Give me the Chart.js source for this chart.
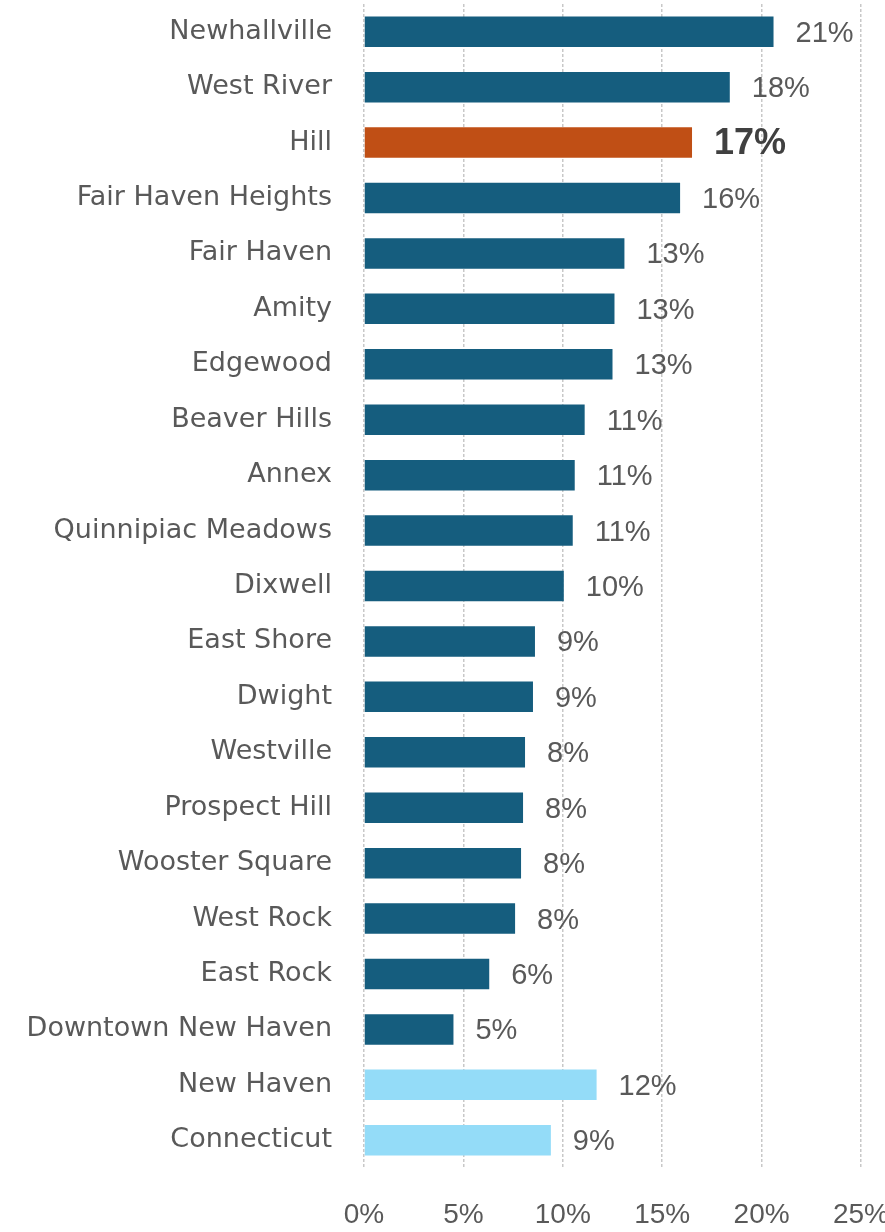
<!DOCTYPE html>
<html>
<head>
<meta charset="utf-8">
<script src="https://cdn.jsdelivr.net/npm/chart.js@4"></script>
<style>
  html, body { margin: 0; padding: 0; background: #fff; }
  #wrap { width: 885px; height: 1232px; }
</style>
</head>
<body>
<div id="wrap"><canvas id="chart" width="885" height="1232"></canvas></div>
<script>
const neighborhoods = ['Newhallville', 'West River', 'Hill', 'Fair Haven Heights', 'Fair Haven', 'Amity',
    'Edgewood', 'Beaver Hills', 'Annex', 'Quinnipiac Meadows', 'Dixwell', 'East Shore', 'Dwight',
    'Westville', 'Prospect Hill', 'Wooster Square', 'West Rock', 'East Rock', 'Downtown New Haven',
    'New Haven', 'Connecticut'];
const shares = [20.6, 18.4, 16.5, 15.9, 13.1, 12.6, 12.5, 11.1, 10.6, 10.5, 10.05, 8.6, 8.5, 8.1,
    8.0, 7.9, 7.6, 6.3, 4.5, 11.7, 9.4];
const xTicks = [0, 5, 10, 15, 20, 25];

const DARK = '#155d7e', ORANGE = '#c04f15', LIGHT = '#94dcf8';
const barColors = neighborhoods.map(function(n) {
    if (n === 'Hill') return ORANGE;
    if (n === 'New Haven' || n === 'Connecticut') return LIGHT;
    return DARK;
});

//draw the value labels next to each bar
const valueLabels = {
    id: 'valueLabels',
    afterDatasetsDraw(chart) {
        const c = chart.ctx;
        const meta = chart.getDatasetMeta(0);
        c.save();
        c.textBaseline = 'middle';
        c.textAlign = 'left';
        meta.data.forEach(function(bar, i) {
            const hill = neighborhoods[i] === 'Hill';
            c.font = hill ? 'bold 36px "Liberation Sans", Arial, sans-serif' : '29px "Liberation Sans", Arial, sans-serif';
            c.fillStyle = hill ? '#404040' : '#595959';
            c.fillText(Math.round(shares[i]) + '%', bar.x + 22, bar.y + 2);
        });
        c.restore();
    }
};

new Chart(document.getElementById('chart').getContext('2d'), {
    type: 'bar',
    data: {
        labels: neighborhoods,
        datasets: [{
            data: shares,
            backgroundColor: barColors,
            categoryPercentage: 1,
            barPercentage: 0.55
        }]
    },
    options: {
        indexAxis: 'y',
        responsive: false,
        animation: false,
        layout: { padding: { top: 4, right: 24, left: 0, bottom: 0 } },
        plugins: { legend: { display: false }, tooltip: { enabled: false } },
        scales: {
            x: {
                min: 0,
                max: 25,
                afterBuildTicks: function(axis) { axis.ticks = xTicks.map(v => ({ value: v })); },
                afterFit: function(axis) {
                    axis.height = 64;
                    axis.paddingLeft = 0;
                    axis.paddingRight = 0;
                },
                grid: { color: '#c8c8c8', lineWidth: 1.5, drawTicks: false },
                border: { display: false, dash: [3, 2] },
                ticks: {
                    padding: 30,
                    color: '#595959',
                    font: { family: '"Liberation Sans", Arial, sans-serif', size: 28 },
                    callback: v => v + '%'
                }
            },
            y: {
                afterFit: function(axis) {
                    axis.width = 364;
                    axis.paddingTop = 0;
                    axis.paddingBottom = 0;
                },
                grid: { display: false },
                border: { display: false },
                ticks: {
                    padding: 24,
                    color: '#595959',
                    autoSkip: false,
                    font: { family: '"DejaVu Sans", sans-serif', size: 27 }
                }
            }
        }
    },
    plugins: [valueLabels]
});
</script>
</body>
</html>
